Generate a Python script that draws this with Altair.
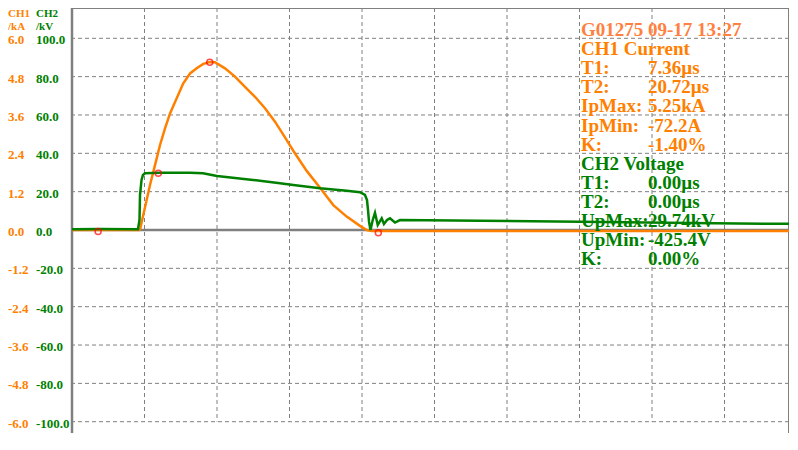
import altair as alt
import pandas as pd

# ---------------- data (time in µs, 10 µs per division) ----------------
ch1_t = [0, 9.3, 9.4, 9.83, 10.76, 11.45, 12.14, 12.83, 13.52, 14.44, 15.35, 16.28,
         17.2, 18.11, 19.03, 19.72, 21.1, 22.48, 23.86, 25.24, 26.62, 28.0, 29.38,
         30.52, 32.37, 34.21, 36.04, 37.89, 39.72, 40.65, 41.34, 98.9]
ch1_ka = [0, 0, 0.03, 0.47, 1.41, 2.03, 2.66, 3.18, 3.65, 4.12, 4.59, 4.90,
          5.06, 5.20, 5.26, 5.25, 5.06, 4.80, 4.48, 4.17, 3.81, 3.39, 2.90,
          2.48, 1.85, 1.32, 0.78, 0.42, 0.13, 0.0, -0.03, -0.03]

ch2_t = [0, 3.9, 9.1, 9.31, 9.38, 9.59, 9.79, 10.07, 12.14, 16.28, 18.07, 20.0,
         24.97, 28.69, 30.52, 34.21, 37.89, 39.72, 40.41, 40.69, 40.83, 40.97,
         41.17, 41.48, 41.79, 42.17, 42.72, 43.03, 43.45, 43.86, 44.55, 45.24,
         56.28, 70.07, 88.41, 98.9]
ch2_kv = [0.4, 0.5, 0.4, 5.2, 18.3, 26.1, 28.7, 29.6, 29.9, 29.9, 29.6, 28.2,
          26.1, 24.4, 23.5, 21.8, 20.5, 19.7, 18.3, 15.6, 10.4, 4.2,
          0.0, 5.2, 9.0, 2.6, 6.1, 3.1, 5.2, 6.1, 3.9, 5.2,
          4.85, 4.33, 3.5, 3.2]

marker_t = [3.6, 11.9, 19.0, 42.25]
marker_ka = [-0.05, 1.78, 5.25, -0.085]

grid_kv = [100, 80, 60, 40, 20, -20, -40, -60, -80, -100]
grid_t = [10, 20, 30, 40, 50, 60, 70, 80, 90]

tick_kv = [100, 80, 60, 40, 20, 0, -20, -40, -60, -80, -100]
ch1_tick_labels = ["6.0", "4.8", "3.6", "2.4", "1.2", "0.0", "-1.2", "-2.4", "-3.6", "-4.8", "-6.0"]
ch2_tick_labels = ["100.0", "80.0", "60.0", "40.0", "20.0", "0.0", "-20.0", "-40.0", "-60.0", "-80.0", "-100.0"]

header_texts = ["CH1", "/kA", "CH2", "/kV"]

info_labels = ["G01275  09-17 13:27", "CH1 Current", "T1:", "T2:", "IpMax:", "IpMin:", "K:",
               "CH2 Voltage", "T1:", "T2:", "UpMax:", "UpMin:", "K:"]
info_values = ["", "", "7.36µs", "20.72µs", "5.25kA", "-72.2A", "-1.40%",
               "", "0.00µs", "0.00µs", "29.74kV", "-425.4V", "0.00%"]
info_colors = ["#FF8040"] + ["#FF8000"] * 6 + ["#008000"] * 6

# ---------------- layout constants ----------------
W, H = 717, 425
PX_PER_KV = 1.917
ZERO_PX = 222
YMAX = ZERO_PX / PX_PER_KV
YMIN = -(H - ZERO_PX) / PX_PER_KV
XMAX = W / 7.25
KV_PER_KA = 100 / 6

ORANGE = "#FF8000"
GREEN = "#008000"
GRAY = "#808080"
FONT = "Liberation Serif"

xs = alt.Scale(domain=[0, XMAX], nice=False, zero=False)
ys = alt.Scale(domain=[YMIN, YMAX], nice=False, zero=False)

ch1 = pd.DataFrame({"t": ch1_t, "v": [k * KV_PER_KA for k in ch1_ka]})
ch2 = pd.DataFrame({"t": ch2_t, "v": ch2_kv})
mk = pd.DataFrame({"t": marker_t, "v": [k * KV_PER_KA for k in marker_ka]})
hg = pd.DataFrame({"v": grid_kv})
vg = pd.DataFrame({"t": grid_t, "top": [YMAX] * len(grid_t), "bot": [-100] * len(grid_t)})
ticks = pd.DataFrame({"v": tick_kv, "l1": ch1_tick_labels, "l2": ch2_tick_labels})
info = pd.DataFrame({"label": info_labels, "value": info_values, "color": info_colors,
                     "row": list(range(len(info_labels)))})
info["v"] = (ZERO_PX - (28 + 19.1 * info["row"])) / PX_PER_KV

X = lambda f: alt.X(f, type="quantitative", scale=xs, axis=None)
Y = lambda f: alt.Y(f, type="quantitative", scale=ys, axis=None)

hgrid = alt.Chart(hg).mark_rule(color=GRAY, strokeWidth=1, strokeDash=[4, 3]).encode(y=Y("v"))
vgrid = alt.Chart(vg).mark_rule(color=GRAY, strokeWidth=1, strokeDash=[4, 3]).encode(
    x=X("t"), y=Y("top"), y2="bot")
zero = alt.Chart(pd.DataFrame({"v": [0]})).mark_rule(color=GRAY, strokeWidth=2.5).encode(y=Y("v"))
left = alt.Chart(pd.DataFrame({"t": [0]})).mark_rule(color=GRAY, strokeWidth=2.5).encode(x=X("t"))
topf = alt.Chart(pd.DataFrame({"v": [YMAX]})).mark_rule(color=GRAY, strokeWidth=2).encode(y=Y("v"))
rightf = alt.Chart(pd.DataFrame({"t": [XMAX]})).mark_rule(color=GRAY, strokeWidth=2).encode(x=X("t"))

l1 = alt.Chart(ch1).mark_line(color=ORANGE, strokeWidth=2.5).encode(x=X("t"), y=Y("v"))
l2 = alt.Chart(ch2).mark_line(color=GREEN, strokeWidth=2.5).encode(x=X("t"), y=Y("v"))
pts = alt.Chart(mk).mark_point(shape="circle", color="#FF0000", filled=False, size=36,
                               strokeWidth=1.5).encode(x=X("t"), y=Y("v"))

tk1 = alt.Chart(ticks).mark_text(align="left", baseline="alphabetic", dy=6, font=FONT,
                                 fontWeight="bold", fontSize=13, color=ORANGE).encode(
    x=alt.value(-64), y=Y("v"), text="l1:N")
tk2 = alt.Chart(ticks).mark_text(align="left", baseline="alphabetic", dy=6, font=FONT,
                                 fontWeight="bold", fontSize=13, color=GREEN).encode(
    x=alt.value(-36), y=Y("v"), text="l2:N")

hdr = pd.DataFrame({"txt": header_texts,
                    "xp": [-64, -64, -36, -36], "yp": [0, 13, 0, 13],
                    "color": [ORANGE, ORANGE, GREEN, GREEN]})
hdr_t = alt.Chart(hdr).mark_text(align="left", baseline="top", font=FONT,
                                 fontWeight="bold", fontSize=11).encode(
    x=alt.X("xp:Q", scale=None), y=alt.Y("yp:Q", scale=None), text="txt:N",
    color=alt.Color("color:N", scale=None))

inf_l = alt.Chart(info).mark_text(align="left", baseline="alphabetic", font=FONT,
                                  fontWeight="bold", fontSize=19).encode(
    x=alt.value(509), y=Y("v"), text="label:N", color=alt.Color("color:N", scale=None))
inf_v = alt.Chart(info).mark_text(align="left", baseline="alphabetic", font=FONT,
                                  fontWeight="bold", fontSize=19).encode(
    x=alt.value(576), y=Y("v"), text="value:N", color=alt.Color("color:N", scale=None))

chart = alt.layer(hgrid, vgrid, zero, left, topf, rightf, l1, l2, pts, tk1, tk2, hdr_t,
                  inf_l, inf_v).properties(
    width=W, height=H,
    autosize=alt.AutoSizeParams(type="none"),
    padding={"left": 64, "top": 0, "right": 0, "bottom": 0},
    background="white",
).configure_view(stroke=None)

chart.save("out.html", embed_options={"renderer": "svg", "actions": False})
